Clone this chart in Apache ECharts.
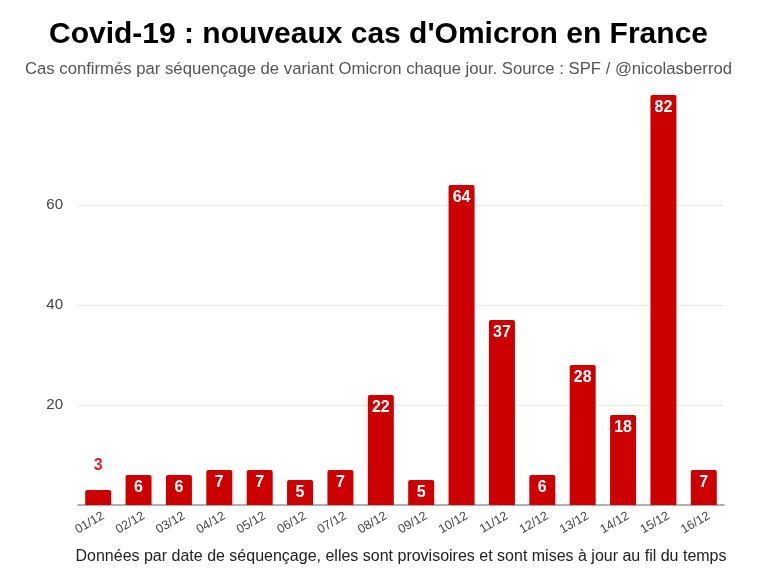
<!DOCTYPE html>
<html>
<head>
<meta charset="utf-8">
<script src="https://cdn.jsdelivr.net/npm/echarts@6/dist/echarts.min.js"></script>
<style>html,body{margin:0;padding:0;background:#fff}#c{width:757px;height:580px}</style>
</head>
<body>
<div id="c"></div>
<script>
var categories = ['01/12','02/12','03/12','04/12','05/12','06/12','07/12','08/12','09/12','10/12','11/12','12/12','13/12','14/12','15/12','16/12'];
var cases = [3,6,6,7,7,5,7,22,5,64,37,6,28,18,82,7];
var yTickValues = [20,40,60];

var chart = echarts.init(document.getElementById('c'), null, {renderer:'canvas'});
var data = cases.map(function(v){
  if (v < 5) {
    return {value:v, label:{position:'top', distance:16, color:'#d92121'}};
  }
  return v;
});
chart.setOption({
  animation:false,
  backgroundColor:'#ffffff',
  title:[{
    text:"Covid-19 : nouveaux cas d'Omicron en France",
    left:'center', top:15,
    textStyle:{fontFamily:'Liberation Sans, Arial, sans-serif', fontSize:30, fontWeight:'bold', color:'#000'}
  },{
    text:'Cas confirmés par séquençage de variant Omicron chaque jour. Source : SPF / @nicolasberrod',
    left:'center', top:56,
    textStyle:{fontFamily:'Liberation Sans, Arial, sans-serif', fontSize:16.7, fontWeight:'normal', color:'#555'}
  }],
  grid:{left:78, right:33, top:95, bottom:75},
  xAxis:{
    type:'category',
    data:categories,
    name:'Données par date de séquençage, elles sont provisoires et sont mises à jour au fil du temps',
    nameLocation:'middle', nameGap:44,
    nameTextStyle:{fontFamily:'Liberation Sans, Arial, sans-serif', fontSize:16, color:'#222'},
    axisLine:{show:true, lineStyle:{color:'#999', width:1.5}},
    axisTick:{show:false},
    axisLabel:{rotate:30, interval:0, fontFamily:'Liberation Sans, Arial, sans-serif', fontSize:12.5, color:'#444', margin:13, padding:[0,-6,0,0]}
  },
  yAxis:{
    type:'value', min:0, max:82,
    axisLine:{show:false},
    axisTick:{show:false, customValues:[0,20,40,60]},
    axisLabel:{customValues:yTickValues, fontFamily:'Liberation Sans, Arial, sans-serif', fontSize:15, color:'#444', margin:15},
    splitLine:{show:true, lineStyle:{color:'#e6e6e6', width:1}}
  },
  series:[{
    type:'bar',
    data:data,
    barWidth:26,
    itemStyle:{color:'#cc0000', borderRadius:[2,2,0,0]},
    label:{show:true, position:'insideTop', distance:5, color:'#fff', fontFamily:'Liberation Sans, Arial, sans-serif', fontSize:16, fontWeight:'bold'}
  }]
});
</script>
</body>
</html>
